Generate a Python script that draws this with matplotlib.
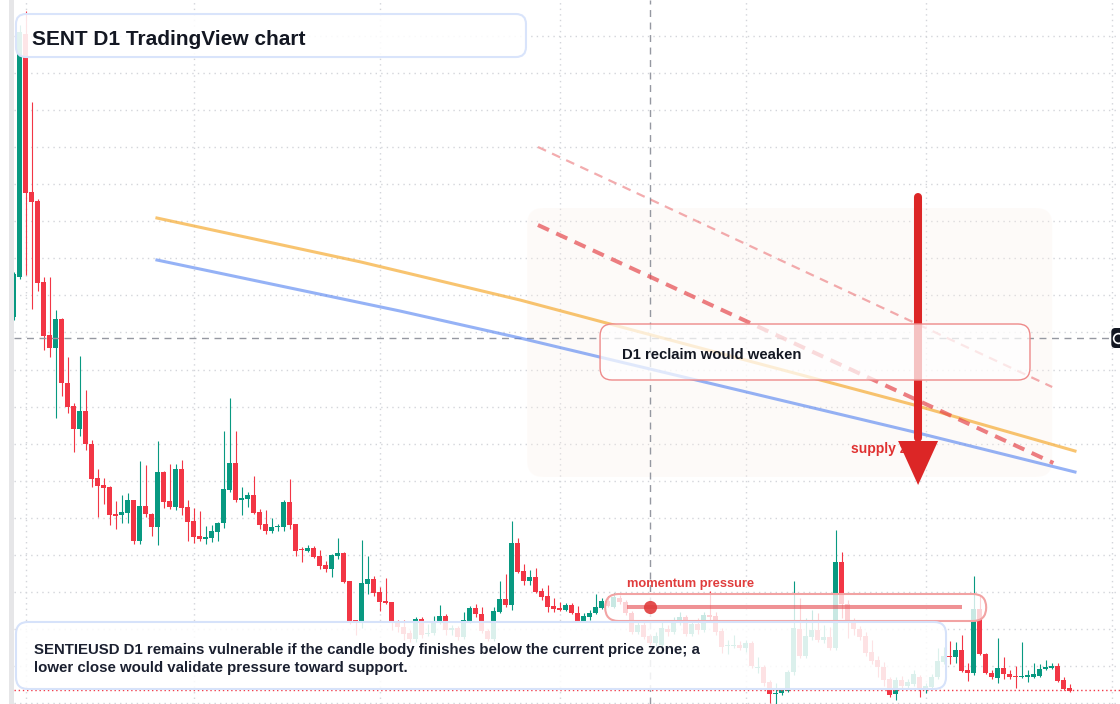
import numpy as np
import pandas as pd
import matplotlib
matplotlib.use('Agg')
import matplotlib.pyplot as plt
from matplotlib.patches import FancyBboxPatch, Polygon, Rectangle

plt.rcParams['font.family'] = ['Liberation Sans', 'DejaVu Sans']

# SENTIEUSD daily candles, prices in units of 0.0001 USD
dates = pd.date_range('2025-01-30', periods=177, freq='D')
opens = [483, 523, 766, 608, 599, 518, 465, 452, 481, 417,
         394, 371, 389, 356, 322, 315, 313, 286, 285, 287,
         300, 259, 294, 286, 273, 328, 299, 293, 331, 293,
         279, 264, 261, 262, 268, 277, 310, 337, 300, 301,
         305, 288, 276, 269, 273, 273, 298, 276, 251, 249,
         252, 244, 235, 231, 244, 247, 219, 180, 178, 216,
         221, 208, 199, 198, 177, 173, 167, 161, 181, 166,
         167, 178, 184, 170, 172, 163, 179, 192, 186, 169,
         161, 188, 201, 195, 257, 229, 219, 223, 209, 204,
         194, 192, 190, 195, 187, 179, 183, 187, 192, 199,
         193, 202, 198, 187, 168, 175, 164, 157, 155, 171,
         168, 177, 183, 166, 176, 170, 185, 184, 169, 154,
         154, 155, 152, 157, 132, 133, 118, 106, 107, 109,
         128, 171, 144, 163, 170, 160, 163, 152, 238, 196,
         180, 171, 164, 148, 140, 133, 121, 106, 120, 114,
         116, 123, 110, 113, 123, 138, 144, 143, 150, 130,
         127, 191, 146, 127, 122, 132, 126, 124, 123, 123,
         123, 124, 131, 132, 134, 120, 112]
highs = [528, 775, 789, 698, 601, 523, 523, 490, 482, 443,
         397, 444, 410, 360, 331, 322, 314, 299, 305, 307,
         300, 339, 335, 287, 359, 329, 336, 336, 340, 300,
         292, 289, 274, 275, 278, 369, 402, 369, 313, 308,
         324, 291, 290, 282, 276, 300, 321, 276, 253, 255,
         254, 250, 239, 246, 262, 248, 219, 180, 260, 244,
         224, 213, 222, 198, 180, 180, 170, 183, 183, 176,
         184, 195, 186, 175, 174, 188, 194, 196, 193, 171,
         193, 219, 226, 279, 262, 236, 230, 232, 212, 215,
         202, 198, 197, 197, 194, 187, 190, 206, 202, 204,
         207, 205, 200, 189, 178, 178, 166, 168, 178, 175,
         183, 188, 185, 180, 182, 188, 209, 188, 172, 160,
         165, 159, 160, 159, 143, 135, 120, 117, 112, 130,
         219, 202, 182, 190, 187, 175, 173, 270, 248, 200,
         182, 174, 168, 160, 144, 138, 123, 123, 124, 121,
         130, 125, 117, 126, 152, 153, 159, 158, 165, 137,
         224, 204, 147, 130, 162, 143, 130, 134, 158, 130,
         137, 136, 140, 137, 137, 123, 116]
lows = [480, 521, 525, 491, 509, 450, 443, 382, 404, 387,
        348, 364, 350, 313, 283, 296, 275, 271, 277, 277,
        256, 256, 283, 264, 255, 292, 291, 290, 285, 259,
        257, 259, 256, 258, 259, 272, 308, 298, 285, 293,
        286, 271, 266, 267, 269, 269, 271, 244, 238, 248,
        242, 231, 228, 223, 241, 217, 176, 165, 172, 206,
        204, 189, 196, 170, 168, 160, 158, 158, 162, 164,
        165, 176, 165, 165, 160, 161, 177, 183, 167, 159,
        159, 187, 193, 190, 227, 215, 215, 207, 200, 188,
        188, 189, 189, 186, 178, 178, 180, 186, 191, 193,
        192, 196, 185, 166, 166, 161, 155, 154, 153, 164,
        166, 175, 164, 164, 166, 168, 178, 165, 147, 146,
        152, 150, 148, 132, 127, 114, 97, 96, 105, 108,
        125, 142, 142, 160, 158, 157, 150, 150, 182, 162,
        165, 160, 144, 136, 123, 114, 103, 100, 111, 111,
        114, 103, 107, 111, 121, 136, 136, 137, 128, 119,
        125, 145, 126, 121, 117, 121, 121, 112, 122, 118,
        122, 123, 130, 131, 118, 110, 108]
closes = [526, 768, 607, 598, 517, 464, 452, 481, 417, 393,
          371, 389, 356, 321, 314, 312, 285, 284, 288, 300,
          259, 294, 286, 273, 328, 298, 293, 331, 292, 278,
          263, 261, 263, 269, 277, 311, 337, 300, 302, 305,
          287, 275, 269, 273, 274, 298, 275, 249, 250, 252,
          243, 234, 231, 245, 247, 218, 179, 178, 217, 221,
          207, 198, 197, 178, 173, 166, 161, 181, 165, 167,
          178, 184, 170, 172, 163, 180, 192, 186, 169, 161,
          189, 201, 195, 257, 228, 219, 223, 208, 203, 193,
          191, 190, 195, 187, 179, 184, 187, 193, 199, 194,
          203, 198, 187, 168, 175, 163, 157, 164, 172, 168,
          178, 183, 166, 176, 170, 185, 183, 168, 153, 155,
          155, 152, 157, 134, 133, 117, 106, 107, 110, 128,
          172, 144, 164, 170, 160, 163, 152, 238, 196, 179,
          171, 163, 147, 139, 133, 120, 105, 120, 114, 118,
          126, 111, 114, 123, 139, 144, 143, 150, 129, 127,
          191, 146, 127, 123, 132, 126, 123, 123, 124, 125,
          126, 131, 133, 134, 119, 111, 109]

# overlay studies (day index, price)
slow_ma_x = [23.9, 57.9, 84.4, 150.1, 176.9]
slow_ma_y = [582, 538, 500, 395, 349]
fast_ma_x = [23.9, 64.4, 84.4, 150.1, 176.9]
fast_ma_y = [540, 489, 462, 368, 328]
last_price = 110
cross_price = 462
cross_day = 106

title = 'SENT D1 TradingView chart'
note = ('SENTIEUSD D1 remains vulnerable if the candle body finishes below the current price zone; a\n'
        'lower close would validate pressure toward support.')

GREEN, RED = '#089981', '#f23645'


def rounded_box(ax, x0, y0, x1, y1, r_px, transform, ppx, ppy, **kw):
    # ppx/ppy = pixels per unit along x / y, keeps the corners circular
    box = FancyBboxPatch((x0, y0), x1 - x0, y1 - y0,
                         boxstyle=f'round,pad=0,rounding_size={r_px / ppx}',
                         mutation_aspect=ppx / ppy, transform=transform, **kw)
    ax.add_patch(box)
    return box


fig = plt.figure(figsize=(11.2, 7.04), dpi=100)
fig.patches.append(Rectangle((9 / 1120, 0), 5 / 1120, 1, transform=fig.transFigure,
                             fc='#e6e6e8', ec='none'))
ax = fig.add_axes([14 / 1120, 0, 1106 / 1120, 1])
ax.set_xlim(0.08, 184.4)
ax.set_ylim(96, 800)
for s in ax.spines.values():
    s.set_visible(False)
ax.set_xticks([])
ax.set_yticks([])

# grid: month starts and price levels
month_starts = pd.date_range('2025-02-01', '2025-08-01', freq='MS')
for gx in (month_starts - dates[0]).days:
    ax.axvline(gx, color='#d3d5da', lw=1, ls=(0, (1, 3)), zorder=0)
for gy in np.arange(97, 780, 37.05):
    ax.axhline(gy, color='#d3d5da', lw=1, ls=(0, (1, 3)), zorder=0)

# supply zone shading
rounded_box(ax, 85.6, 323, 173.1, 592, 16, ax.transData, 6, 1,
            fc='#fbefe6', ec='none', alpha=0.25, zorder=0.3)

# candles
x = np.arange(len(opens))
o, h, l, c = (np.array(v, float) for v in (opens, highs, lows, closes))
col = np.where(c >= o, GREEN, RED)
ax.vlines(x, l, h, colors=col, lw=0.8, zorder=3)
ax.bar(x, np.maximum(np.abs(c - o), 1.0), bottom=np.minimum(o, c), width=0.82,
       color=col, linewidth=0, zorder=3)

# crosshair and last price line
ax.axhline(cross_price, color='#9598a1', lw=1, ls=(0, (5, 4)), zorder=3.5)
ax.axvline(cross_day, color='#9598a1', lw=1, ls=(0, (5, 4)), zorder=3.5)
ax.axhline(last_price, color=RED, lw=1, ls=(0, (1, 2)), zorder=3.5)

# moving averages and descending trendlines
ax.plot(slow_ma_x, slow_ma_y, color='#f5a524', alpha=0.65, lw=2.2, zorder=4)
ax.plot(fast_ma_x, fast_ma_y, color='#4f7ff0', alpha=0.6, lw=2.2, zorder=4)
ax.plot([87.4, 173.3], [575, 337], color='#e5484d', alpha=0.7, lw=2.9,
        ls=(0, (3, 2)), zorder=4)
ax.plot([87.4, 173.1], [653, 413], color='#e5484d', alpha=0.45, lw=1.6,
        ls=(0, (4, 3)), zorder=4)

ax.text(139.6, 351, 'supply zone', color='#e03131', fontsize=10, fontweight='bold',
        va='center', ha='left', zorder=5)

# big down arrow
ax.plot([150.75, 150.75], [603, 362], color='#dc2626', lw=5.8,
        solid_capstyle='round', zorder=6)
ax.add_patch(Polygon([[147.42, 359], [154.08, 359], [150.75, 315]], closed=True,
                     color='#dc2626', lw=0, zorder=6))

# reclaim box
rounded_box(ax, 97.75, 420, 169.4, 476, 12, ax.transData, 6, 1,
            fc=(1, 1, 1, 0.72), ec='#ee8a8a', lw=1, zorder=7)
ax.text(101.4, 445, 'D1 reclaim would weaken', fontsize=10.7, fontweight='bold',
        color='#131722', va='center', zorder=8)

# momentum pill
rounded_box(ax, 98.6, 179, 162.1, 206, 13.5, ax.transData, 6, 1,
            fc=(1, 1, 1, 0.78), ec='#f2a3a3', lw=1.5, zorder=7)
ax.plot([102.25, 158.1], [193, 193], color='#e5484d', alpha=0.6, lw=2.9,
        solid_capstyle='butt', zorder=8)
ax.plot(106.08, 193, 'o', ms=9.5, color='#e03c3c', alpha=0.9, mew=0, zorder=9)
ax.text(102.25, 216, 'momentum pressure', color='#e03c3c', fontsize=9.3,
        fontweight='bold', va='center', zorder=8)

# title and note panels
rounded_box(ax, 0.0018, 0.919, 0.4629, 0.9801, 10, ax.transAxes, 1106, 704,
            fc=(1, 1, 1, 0.88), ec='#d9e4fb', lw=1.5, zorder=9)
ax.text(0.0163, 0.9446, title, transform=ax.transAxes, fontsize=15,
        fontweight='bold', color='#131722', va='center', zorder=10)
rounded_box(ax, 0.0018, 0.0213, 0.8427, 0.1165, 12, ax.transAxes, 1106, 704,
            fc=(1, 1, 1, 0.86), ec='#d6e2fa', lw=1.5, zorder=9)
ax.text(0.0181, 0.0640, note, transform=ax.transAxes, fontsize=10.8,
        fontweight='bold', color='#1b2030', va='center', linespacing=1.32, zorder=10)

# price-scale marker on the crosshair
rounded_box(ax, 182.95, 452, 186.5, 472, 4, ax.transData, 6, 1,
            fc='#131722', ec='none', zorder=11)
ax.plot(184.1, cross_price, 'o', mfc='none', mec='white', ms=7, mew=1.2, zorder=12)

fig.savefig('out.png', dpi=100)
